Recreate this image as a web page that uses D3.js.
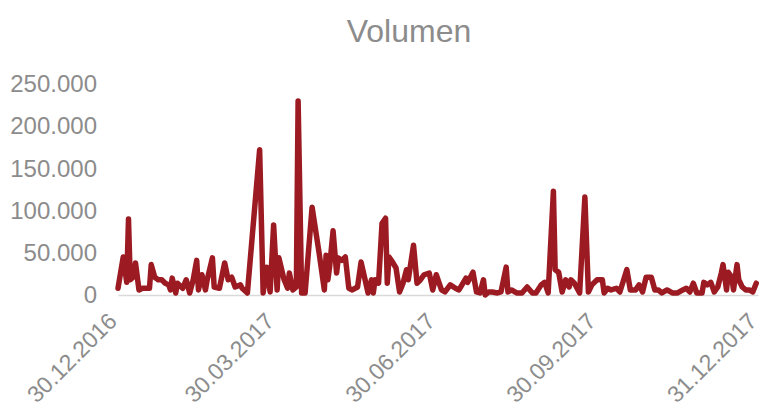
<!DOCTYPE html>
<html>
<head>
<meta charset="utf-8">
<script src="https://cdn.jsdelivr.net/npm/d3@7"></script>
<style>
  html, body { margin: 0; padding: 0; background: #fff; }
  svg { display: block; font-family: "Liberation Sans", Arial, sans-serif; }
</style>
</head>
<body>
<svg id="chart" width="763" height="407"></svg>
<script>
const title = "Volumen";
const dates = [
  "2016-12-30","2017-01-02","2017-01-04","2017-01-05","2017-01-06","2017-01-08","2017-01-09","2017-01-11","2017-01-13","2017-01-17",
  "2017-01-18","2017-01-20","2017-01-22","2017-01-24","2017-01-26","2017-01-28","2017-01-29","2017-01-30","2017-02-01","2017-02-02",
  "2017-02-05","2017-02-07","2017-02-09","2017-02-11","2017-02-13","2017-02-14","2017-02-16","2017-02-18","2017-02-19","2017-02-22",
  "2017-02-23","2017-02-26","2017-03-01","2017-03-03","2017-03-05","2017-03-07","2017-03-10","2017-03-11","2017-03-14","2017-03-21",
  "2017-03-23","2017-03-25","2017-03-26","2017-03-27","2017-03-29","2017-03-31","2017-04-01","2017-04-04","2017-04-06","2017-04-07",
  "2017-04-09","2017-04-11","2017-04-12","2017-04-14","2017-04-16","2017-04-20","2017-04-24","2017-04-27","2017-04-28","2017-04-29",
  "2017-04-30","2017-05-02","2017-05-04","2017-05-05","2017-05-07","2017-05-09","2017-05-11","2017-05-13","2017-05-16","2017-05-18",
  "2017-05-20","2017-05-22","2017-05-24","2017-05-25","2017-05-26","2017-05-28","2017-05-30","2017-06-01","2017-06-02","2017-06-03",
  "2017-06-05","2017-06-07","2017-06-09","2017-06-11","2017-06-13","2017-06-14","2017-06-17","2017-06-19","2017-06-21","2017-06-23",
  "2017-06-26","2017-06-28","2017-06-30","2017-07-03","2017-07-05","2017-07-08","2017-07-11","2017-07-13","2017-07-17","2017-07-18",
  "2017-07-21","2017-07-23","2017-07-25","2017-07-27","2017-07-28","2017-07-30","2017-08-01","2017-08-04","2017-08-06","2017-08-09",
  "2017-08-10","2017-08-12","2017-08-15","2017-08-18","2017-08-21","2017-08-24","2017-08-26","2017-08-29","2017-08-31","2017-09-02",
  "2017-09-05","2017-09-06","2017-09-08","2017-09-10","2017-09-12","2017-09-14","2017-09-15","2017-09-17","2017-09-20","2017-09-23",
  "2017-09-25","2017-09-27","2017-09-30","2017-10-03","2017-10-04","2017-10-06","2017-10-08","2017-10-11","2017-10-13","2017-10-17",
  "2017-10-19","2017-10-22","2017-10-24","2017-10-26","2017-10-28","2017-10-31","2017-11-02","2017-11-04","2017-11-06","2017-11-09",
  "2017-11-12","2017-11-15","2017-11-18","2017-11-20","2017-11-22","2017-11-24","2017-11-26","2017-11-29","2017-11-30","2017-12-02",
  "2017-12-04","2017-12-06","2017-12-08","2017-12-10","2017-12-11","2017-12-13","2017-12-14","2017-12-16","2017-12-17","2017-12-19",
  "2017-12-20","2017-12-22","2017-12-24","2017-12-26","2017-12-28","2017-12-30"
];
const volumes = [
  8000, 45000, 15000, 90000, 18000, 22000, 38000, 6000, 8000, 8000,
  36000, 21000, 18000, 18000, 14000, 12000, 6000, 20000, 2400, 14000,
  8000, 18000, 2400, 18000, 41000, 6000, 24000, 6000, 18000, 44000,
  9500, 8000, 38000, 18000, 21000, 9500, 12000, 8000, 2400, 172000,
  2400, 33000, 18000, 3600, 83000, 6000, 44000, 18000, 8000, 26000,
  6000, 9500, 230000, 2400, 2400, 104000, 50000, 6000, 47000, 18000,
  33000, 76000, 26000, 44000, 41000, 45000, 8000, 6000, 9500, 39000,
  21000, 2400, 18000, 2400, 18000, 14000, 85000, 91000, 14000, 45000,
  39000, 32000, 3600, 14000, 30000, 18000, 59000, 14000, 18000, 24000,
  26000, 6000, 24000, 6000, 3600, 12000, 8000, 6000, 20000, 15000,
  27000, 3600, 2400, 18000, 0, 3600, 3600, 2400, 3600, 33000,
  3600, 6000, 2400, 2400, 9500, 2400, 2400, 12000, 15000, 2400,
  123000, 30000, 27000, 3600, 18000, 9500, 18000, 14000, 2400, 116000,
  3600, 12000, 18000, 18000, 2400, 8000, 6000, 8000, 3600, 30000,
  6000, 6000, 12000, 3600, 21000, 21000, 6000, 6000, 2400, 6000,
  2400, 2400, 6000, 8000, 3600, 14000, 2400, 2400, 15000, 12000,
  15000, 3600, 9500, 26000, 36000, 6000, 27000, 21000, 6000, 36000,
  18000, 9500, 6000, 6000, 3600, 14000
];
const yTicks = [0, 50000, 100000, 150000, 200000, 250000];
const xTickLabels = ["30.12.2016", "30.03.2017", "30.06.2017", "30.09.2017", "31.12.2017"];

const parse = d3.timeParse("%Y-%m-%d");
const parseTick = d3.timeParse("%d.%m.%Y");
const data = dates.map((d, i) => ({ date: parse(d), value: volumes[i] }));

const locale = d3.formatLocale({ decimal: ",", thousands: ".", grouping: [3], currency: ["", " €"] });
const fmt = locale.format(",d");

const svg = d3.select("#chart");
const textColor = "#8c8c8c";

const x = d3.scaleTime()
  .domain([parseTick(xTickLabels[0]), parseTick(xTickLabels[xTickLabels.length - 1])])
  .range([118, 758]);
const y = d3.scaleLinear().domain([0, 250000]).range([295, 84]);

svg.append("text")
  .attr("x", 409).attr("y", 42)
  .attr("text-anchor", "middle")
  .attr("fill", textColor)
  .attr("font-size", 32)
  .text(title);

// y axis labels
const yAxis = d3.axisLeft(y).tickValues(yTicks).tickFormat(fmt).tickSize(0).tickPadding(21);
const gy = svg.append("g").attr("transform", "translate(118,0)").call(yAxis);
gy.select(".domain").remove();
gy.selectAll("text").attr("fill", textColor).attr("font-size", 24)
  .attr("font-family", "Liberation Sans, Arial, sans-serif");

// x axis
const xAxis = d3.axisBottom(x).tickValues(xTickLabels.map(parseTick)).tickFormat((d, i) => xTickLabels[i]).tickSize(0);
const gx = svg.append("g").attr("transform", "translate(0,295)").call(xAxis);
gx.select(".domain").attr("stroke", "#d9d9d9").attr("stroke-width", 1.5);
gx.selectAll("text")
  .attr("fill", textColor).attr("font-size", 23)
  .attr("font-family", "Liberation Sans, Arial, sans-serif")
  .attr("text-anchor", "end")
  .attr("dy", "0.35em")
  .attr("transform", "translate(-6,22) rotate(-45)")
  .attr("y", 0).attr("x", 0);

const line = d3.line().x(d => x(d.date)).y(d => y(d.value));
svg.append("path")
  .datum(data)
  .attr("fill", "none")
  .attr("stroke", "#9c1b22")
  .attr("stroke-width", 5.5)
  .attr("stroke-linejoin", "round")
  .attr("stroke-linecap", "round")
  .attr("d", line);
</script>
</body>
</html>
